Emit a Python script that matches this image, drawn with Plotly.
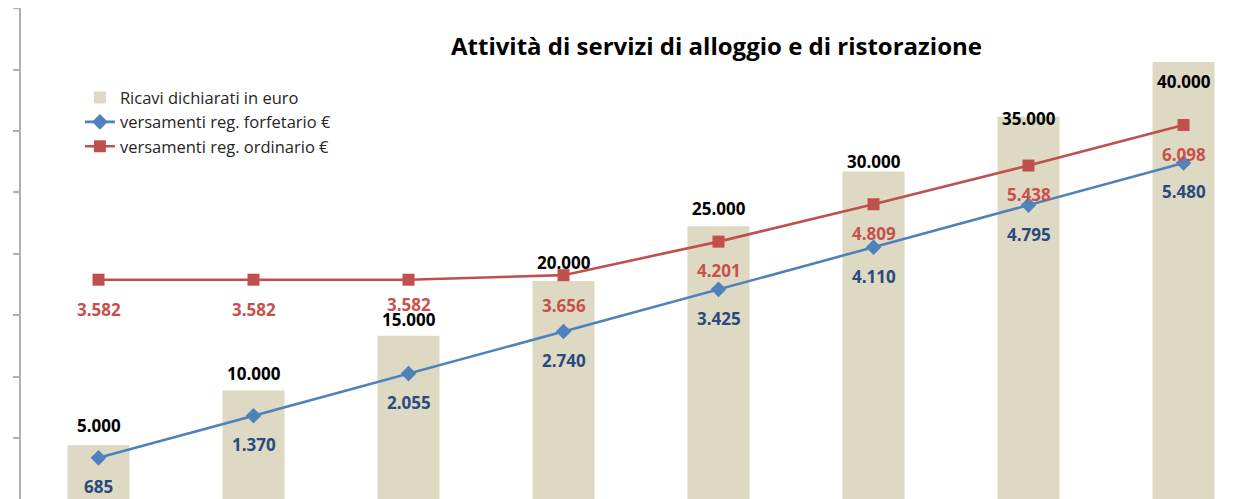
import plotly.graph_objects as go

categories = ["5.000", "10.000", "15.000", "20.000", "25.000", "30.000", "35.000", "40.000"]
ricavi = [5000, 10000, 15000, 20000, 25000, 30000, 35000, 40000]
forfetario = [685, 1370, 2055, 2740, 3425, 4110, 4795, 5480]
ordinario = [3582, 3582, 3582, 3656, 4201, 4809, 5438, 6098]

# label offsets (px) — styling only
bar_label_shift = [20, 17, 16, 18, 18, 10, -2, -20]
blue_label_shift = [-29] * 8
red_label_shift = [-30, -30, -25, -30, -29, -29, -29, -30]

FONT = "Open Sans"
BAR_COLOR = "#DDD9C3"
BLUE = "#4F81BD"
RED = "#C0504D"
BLUE_TXT = "#2B4A7F"
RED_TXT = "#C8504D"

xpos = list(range(len(categories)))


def fmt(v):
    return f"{v:,}".replace(",", ".")


fig = go.Figure()
fig.add_trace(go.Bar(
    x=xpos, y=ricavi, name="Ricavi dichiarati in euro",
    marker=dict(color=BAR_COLOR, line=dict(width=0)), width=0.4, yaxis="y",
))
fig.add_trace(go.Scatter(
    x=xpos, y=forfetario, name="versamenti reg. forfetario €",
    mode="lines+markers", yaxis="y2", cliponaxis=False,
    line=dict(color=BLUE, width=2.6),
    marker=dict(symbol="diamond", size=12, color=BLUE),
))
fig.add_trace(go.Scatter(
    x=xpos, y=ordinario, name="versamenti reg. ordinario €",
    mode="lines+markers", yaxis="y2", cliponaxis=False,
    line=dict(color=RED, width=2.6),
    marker=dict(symbol="square", size=12, color=RED),
))

annotations = []
for i, v in enumerate(ricavi):
    annotations.append(dict(x=xpos[i], y=v, xref="x", yref="y", text=fmt(v), showarrow=False,
                            yanchor="middle", yshift=bar_label_shift[i],
                            font=dict(family=FONT, size=17, color="#000000", weight="bold")))
for i, v in enumerate(forfetario):
    annotations.append(dict(x=xpos[i], y=v, xref="x", yref="y2", text=fmt(v), showarrow=False,
                            yanchor="middle", yshift=blue_label_shift[i],
                            font=dict(family=FONT, size=17, color=BLUE_TXT, weight="bold")))
for i, v in enumerate(ordinario):
    annotations.append(dict(x=xpos[i], y=v, xref="x", yref="y2", text=fmt(v), showarrow=False,
                            yanchor="middle", yshift=red_label_shift[i],
                            font=dict(family=FONT, size=17, color=RED_TXT, weight="bold")))
annotations.append(dict(x=0.567, y=0.9246, xref="paper", yref="paper",
                        text="Attività di servizi di alloggio e di ristorazione",
                        showarrow=False, xanchor="center", yanchor="middle",
                        font=dict(family=FONT, size=24, color="#000000", weight="bold")))

fig.update_layout(
    width=1240, height=491,
    margin=dict(l=13, r=0, t=0, b=0, autoexpand=False),
    paper_bgcolor="white", plot_bgcolor="white",
    separators=",.",
    showlegend=True,
    legend=dict(x=0.048, y=0.853, xanchor="left", yanchor="top",
                bgcolor="rgba(0,0,0,0)", font=dict(family=FONT, size=16.5, color="#262626"),
                traceorder="normal"),
    xaxis=dict(range=[-0.5, 7.416], showticklabels=False, showgrid=False, zeroline=False,
               showline=False, ticks=""),
    yaxis=dict(range=[90, 44930], visible=False, showgrid=False),
    yaxis2=dict(range=[16, 8000], overlaying="y", side="left", anchor="x",
                tick0=0, dtick=1000, ticks="outside", ticklen=6, tickwidth=2, tickcolor="#B0B0B0",
                showline=True, linecolor="#B0B0B0", linewidth=2,
                showticklabels=False, showgrid=False, zeroline=False),
    annotations=annotations,
    font=dict(family=FONT),
)

fig.write_html("out.html")
